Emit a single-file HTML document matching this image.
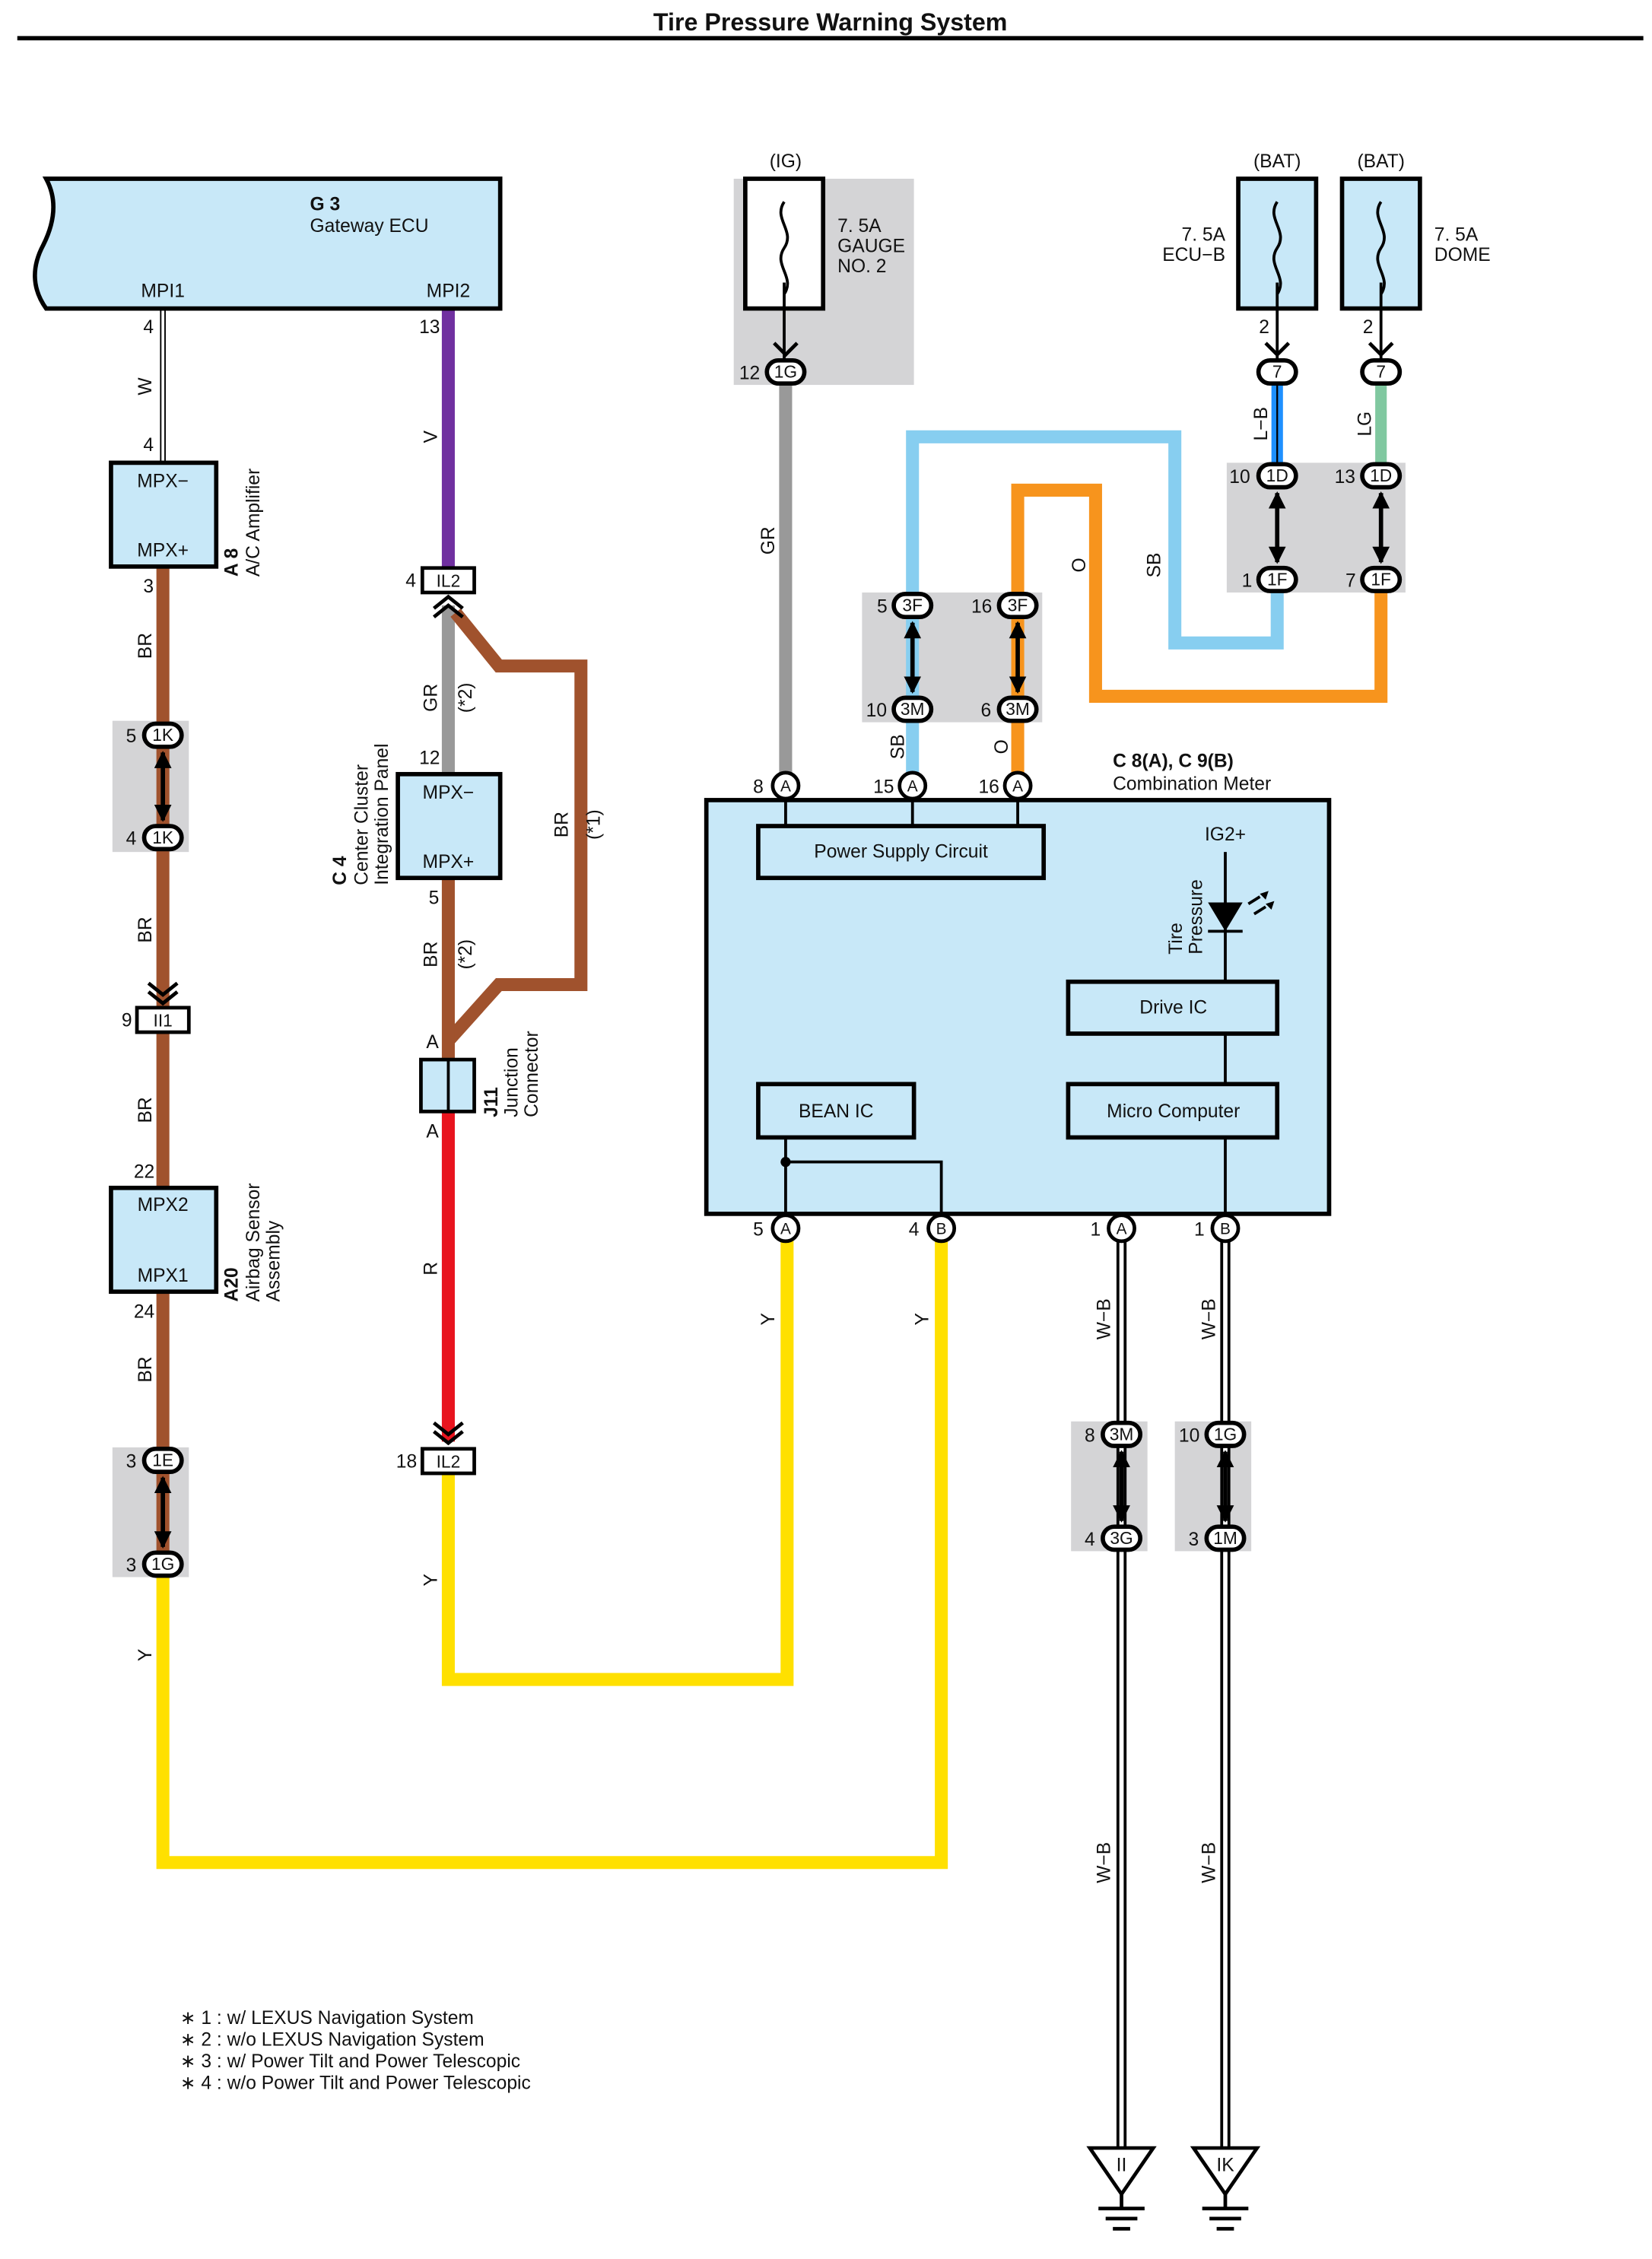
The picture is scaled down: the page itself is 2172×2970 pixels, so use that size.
<!DOCTYPE html>
<html><head><meta charset="utf-8"><style>
html,body{margin:0;padding:0;background:#fff}
svg{display:block}
text{font-family:"Liberation Sans",Arial,sans-serif;font-size:13px;fill:#111}
</style></head><body>
<svg width="2172" height="2970" viewBox="0 0 1146 1567" preserveAspectRatio="none" xmlns="http://www.w3.org/2000/svg">
<defs>
<marker id="ah" viewBox="0 0 10 10" refX="9" refY="5" markerWidth="4" markerHeight="4" orient="auto-start-reverse"><path d="M0,0 L10,5 L0,10 z" fill="#000"/></marker>
</defs>
<text x="576" y="21" text-anchor="middle" style="font-weight:bold;font-size:17px">Tire Pressure Warning System</text>
<rect x="12" y="25" width="1128" height="3" fill="#000"/>

<g fill="#d4d4d6">
<rect x="78" y="500" width="53" height="91"/>
<rect x="78" y="1004" width="53" height="90"/>
<rect x="509" y="124" width="125" height="143"/>
<rect x="851" y="321" width="124" height="90"/>
<rect x="598" y="411" width="125" height="90"/>
<rect x="743" y="986" width="53" height="90"/>
<rect x="815" y="986" width="53" height="90"/>
</g>

<g fill="none" stroke-linejoin="miter">
<path d="M113,214 V322" stroke="#000" stroke-width="4"/><path d="M113,214 V322" stroke="#fff" stroke-width="2"/>
<path d="M113,393 V1094" stroke="#a0522d" stroke-width="9"/>
<path d="M113,1094 V1292 H653 V852" stroke="#ffe000" stroke-width="9"/>
<path d="M311,214 V394" stroke="#7030a0" stroke-width="9"/>
<path d="M311,420 V537" stroke="#999" stroke-width="9"/>
<path d="M316,425 L346,462 H403 V683 H346 L311,722" stroke="#a0522d" stroke-width="9"/>
<path d="M311,609 V735" stroke="#a0522d" stroke-width="9"/>
<path d="M311,771 V1000" stroke="#e8141e" stroke-width="9"/>
<path d="M311,1022 V1165 H546 V852" stroke="#ffe000" stroke-width="9"/>
<path d="M545,267 V545" stroke="#999" stroke-width="9"/>
<path d="M886,267 V322" stroke="#1e90ff" stroke-width="8"/><path d="M886,267 V322" stroke="#000" stroke-width="1.2"/>
<path d="M958,267 V322" stroke="#80c8a0" stroke-width="8"/>
<path d="M886,411 V446 H815 V303 H633 V545" stroke="#87cef0" stroke-width="9"/>
<path d="M958,411 V483 H760 V340 H706 V545" stroke="#f7941d" stroke-width="9"/>
<path d="M778,852 V1500" stroke="#000" stroke-width="7"/><path d="M778,852 V1500" stroke="#fff" stroke-width="3"/>
<path d="M850,852 V1500" stroke="#000" stroke-width="7"/><path d="M850,852 V1500" stroke="#fff" stroke-width="3"/>
</g>

<path d="M32,124 H347 V214 H32 C22,200 22,185 30,170 C40,150 38,135 32,124 Z" fill="#c8e8f8" stroke="#000" stroke-width="3"/>
<text x="215" y="146" style="font-weight:bold">G 3</text>
<text x="215" y="161">Gateway ECU</text>
<text x="113" y="206" text-anchor="middle">MPI1</text>
<text x="311" y="206" text-anchor="middle">MPI2</text>

<g fill="#c8e8f8" stroke="#000" stroke-width="3">
<rect x="77" y="321" width="73" height="72"/>
<rect x="77" y="824" width="73" height="72"/>
<rect x="276" y="537" width="71" height="72"/>
<rect x="859" y="124" width="54" height="90"/>
<rect x="931" y="124" width="54" height="90"/>
<rect x="490" y="555" width="432" height="287"/>
<rect x="526" y="573" width="198" height="36"/>
<rect x="741" y="681" width="145" height="36"/>
<rect x="741" y="752" width="145" height="37"/>
<rect x="526" y="752" width="108" height="37"/>
</g>
<rect x="517" y="124" width="54" height="90" fill="#fff" stroke="#000" stroke-width="3"/>
<g fill="none" stroke="#000" stroke-width="2">
<path d="M544,140 c-8,12 8,20 0,32 c-8,12 8,20 0,32 M544,196 V214"/>
<path d="M886,140 c-8,12 8,20 0,32 c-8,12 8,20 0,32 M886,196 V214"/>
<path d="M958,140 c-8,12 8,20 0,32 c-8,12 8,20 0,32 M958,196 V214"/>
<path d="M544,214 V250 M886,214 V250 M958,214 V250"/>
</g>
<text x="113" y="338" text-anchor="middle">MPX−</text>
<text x="113" y="386" text-anchor="middle">MPX+</text>
<text x="113" y="840" text-anchor="middle">MPX2</text>
<text x="113" y="889" text-anchor="middle">MPX1</text>
<text x="311" y="554" text-anchor="middle">MPX−</text>
<text x="311" y="602" text-anchor="middle">MPX+</text>
<text x="625" y="595" text-anchor="middle">Power Supply Circuit</text>
<text x="814" y="703" text-anchor="middle">Drive IC</text>
<text x="814" y="775" text-anchor="middle">Micro Computer</text>
<text x="580" y="775" text-anchor="middle">BEAN IC</text>

<g>
<text transform="translate(165,400) rotate(-90)" style="font-weight:bold">A 8</text>
<text transform="translate(180,400) rotate(-90)">A/C Amplifier</text>
<text transform="translate(165,903) rotate(-90)" style="font-weight:bold">A20</text>
<text transform="translate(180,903) rotate(-90)">Airbag Sensor</text>
<text transform="translate(194,903) rotate(-90)">Assembly</text>
<text transform="translate(240,614) rotate(-90)" style="font-weight:bold">C 4</text>
<text transform="translate(255,614) rotate(-90)">Center Cluster</text>
<text transform="translate(269,614) rotate(-90)">Integration Panel</text>
<text transform="translate(345,775) rotate(-90)" style="font-weight:bold">J11</text>
<text transform="translate(359,775) rotate(-90)">Junction</text>
<text transform="translate(373,775) rotate(-90)">Connector</text>
<text transform="translate(820,662) rotate(-90)">Tire</text>
<text transform="translate(834,662) rotate(-90)">Pressure</text>
</g>
<g text-anchor="middle">
<text transform="translate(105,268) rotate(-90)">W</text>
<text transform="translate(105,448) rotate(-90)">BR</text>
<text transform="translate(105,645) rotate(-90)">BR</text>
<text transform="translate(105,770) rotate(-90)">BR</text>
<text transform="translate(105,950) rotate(-90)">BR</text>
<text transform="translate(105,1148) rotate(-90)">Y</text>
<text transform="translate(303,303) rotate(-90)">V</text>
<text transform="translate(303,484) rotate(-90)">GR</text>
<text transform="translate(327,484) rotate(-90)">(*2)</text>
<text transform="translate(303,662) rotate(-90)">BR</text>
<text transform="translate(327,662) rotate(-90)">(*2)</text>
<text transform="translate(394,572) rotate(-90)">BR</text>
<text transform="translate(416,572) rotate(-90)">(*1)</text>
<text transform="translate(303,880) rotate(-90)">R</text>
<text transform="translate(303,1096) rotate(-90)">Y</text>
<text transform="translate(537,375) rotate(-90)">GR</text>
<text transform="translate(879,294) rotate(-90)">L−B</text>
<text transform="translate(951,294) rotate(-90)">LG</text>
<text transform="translate(805,392) rotate(-90)">SB</text>
<text transform="translate(753,392) rotate(-90)">O</text>
<text transform="translate(627,518) rotate(-90)">SB</text>
<text transform="translate(699,518) rotate(-90)">O</text>
<text transform="translate(537,915) rotate(-90)">Y</text>
<text transform="translate(644,915) rotate(-90)">Y</text>
<text transform="translate(770,915) rotate(-90)">W−B</text>
<text transform="translate(843,915) rotate(-90)">W−B</text>
<text transform="translate(770,1292) rotate(-90)">W−B</text>
<text transform="translate(843,1292) rotate(-90)">W−B</text>
</g>

<g text-anchor="middle">
<text x="103" y="231">4</text><text x="103" y="313">4</text><text x="103" y="411">3</text>
<text x="100" y="817">22</text><text x="100" y="914">24</text>
<text x="298" y="231">13</text><text x="285" y="407">4</text><text x="298" y="530">12</text>
<text x="301" y="627">5</text><text x="300" y="727">A</text><text x="300" y="789">A</text>
<text x="282" y="1018">18</text><text x="88" y="712">9</text>
<text x="545" y="116">(IG)</text><text x="886" y="116">(BAT)</text><text x="958" y="116">(BAT)</text>
<text x="877" y="231">2</text><text x="949" y="231">2</text>
<text x="850" y="583">IG2+</text>
</g>
<text x="581" y="161">7. 5A</text><text x="581" y="175">GAUGE</text><text x="581" y="189">NO. 2</text>
<text x="850" y="167" text-anchor="end">7. 5A</text><text x="850" y="181" text-anchor="end">ECU−B</text>
<text x="995" y="167">7. 5A</text><text x="995" y="181">DOME</text>
<text x="772" y="532" style="font-weight:bold">C 8(A), C 9(B)</text>
<text x="772" y="548">Combination Meter</text>

<g stroke="#000" stroke-width="3" fill="#fff">
<rect x="100" y="502" width="26" height="16" rx="8"/><rect x="100" y="573" width="26" height="16" rx="8"/>
<rect x="100" y="1005" width="26" height="16" rx="8"/><rect x="100" y="1077" width="26" height="16" rx="8"/>
<rect x="532" y="250" width="26" height="16" rx="8"/>
<rect x="873" y="250" width="26" height="16" rx="8"/><rect x="945" y="250" width="26" height="16" rx="8"/>
<rect x="873" y="322" width="26" height="16" rx="8"/><rect x="873" y="394" width="26" height="16" rx="8"/>
<rect x="945" y="322" width="26" height="16" rx="8"/><rect x="945" y="394" width="26" height="16" rx="8"/>
<rect x="620" y="412" width="26" height="16" rx="8"/><rect x="620" y="484" width="26" height="16" rx="8"/>
<rect x="693" y="412" width="26" height="16" rx="8"/><rect x="693" y="484" width="26" height="16" rx="8"/>
<rect x="765" y="987" width="26" height="16" rx="8"/><rect x="765" y="1059" width="26" height="16" rx="8"/>
<rect x="837" y="987" width="26" height="16" rx="8"/><rect x="837" y="1059" width="26" height="16" rx="8"/>
</g>
<g stroke="#000" stroke-width="2.5" fill="#fff">
<rect x="293" y="394" width="36" height="17"/><rect x="293" y="1005" width="36" height="17"/>
<rect x="95" y="699" width="36" height="17"/>
<rect x="292" y="735" width="37" height="36" fill="#c8e8f8"/>
</g>
<path d="M311,735 V771" stroke="#000" stroke-width="2"/>
<g text-anchor="middle">
<text x="113" y="514" style="font-size:12px">1K</text><text x="113" y="585" style="font-size:12px">1K</text>
<text x="113" y="1017" style="font-size:12px">1E</text><text x="113" y="1089" style="font-size:12px">1G</text>
<text x="545" y="262" style="font-size:12px">1G</text>
<text x="886" y="262" style="font-size:12px">7</text><text x="958" y="262" style="font-size:12px">7</text>
<text x="886" y="334" style="font-size:12px">1D</text><text x="886" y="406" style="font-size:12px">1F</text>
<text x="958" y="334" style="font-size:12px">1D</text><text x="958" y="406" style="font-size:12px">1F</text>
<text x="633" y="424" style="font-size:12px">3F</text><text x="633" y="496" style="font-size:12px">3M</text>
<text x="706" y="424" style="font-size:12px">3F</text><text x="706" y="496" style="font-size:12px">3M</text>
<text x="778" y="999" style="font-size:12px">3M</text><text x="778" y="1071" style="font-size:12px">3G</text>
<text x="850" y="999" style="font-size:12px">1G</text><text x="850" y="1071" style="font-size:12px">1M</text>
<text x="311" y="407" style="font-size:12px">IL2</text><text x="311" y="1018" style="font-size:12px">IL2</text>
<text x="113" y="712" style="font-size:12px">II1</text>
</g>
<g text-anchor="middle">
<text x="91" y="515">5</text><text x="91" y="586">4</text><text x="91" y="1018">3</text><text x="91" y="1090">3</text>
<text x="520" y="263">12</text>
<text x="860" y="335">10</text><text x="865" y="407">1</text><text x="933" y="335">13</text><text x="937" y="407">7</text>
<text x="612" y="425">5</text><text x="681" y="425">16</text><text x="608" y="497">10</text><text x="684" y="497">6</text>
<text x="756" y="1000">8</text><text x="756" y="1072">4</text><text x="825" y="1000">10</text><text x="828" y="1072">3</text>
</g>

<g stroke="#000" stroke-width="3" marker-start="url(#ah)" marker-end="url(#ah)">
<line x1="113" y1="522" x2="113" y2="569"/><line x1="113" y1="1025" x2="113" y2="1073"/>
<line x1="886" y1="342" x2="886" y2="390"/><line x1="958" y1="342" x2="958" y2="390"/>
<line x1="633" y1="432" x2="633" y2="480"/><line x1="706" y1="432" x2="706" y2="480"/>
<line x1="778" y1="1007" x2="778" y2="1055"/><line x1="850" y1="1007" x2="850" y2="1055"/>
</g>
<g fill="none" stroke="#000" stroke-width="2.5">
<path d="M103,682 l10,8 l10,-8 M103,688 l10,8 l10,-8"/>
<path d="M301,987 l10,8 l10,-8 M301,993 l10,8 l10,-8"/>
<path d="M301,422 l10,-8 l10,8 M301,428 l10,-8 l10,8"/>
<path d="M537,238 l8,8 l8,-8"/><path d="M878,238 l8,8 l8,-8"/><path d="M950,238 l8,8 l8,-8"/>
</g>

<g stroke="#000" stroke-width="2" fill="none">
<path d="M545,554 V573 M633,554 V573 M706,554 V573"/>
<path d="M850,591 V681 M850,717 V752 M850,789 V843"/>
<path d="M545,789 V843 M545,806 H653 V843"/>
<path d="M866,627 l8,-5 M870,634 l8,-5"/>
</g>
<circle cx="545" cy="806" r="3.5"/>
<path d="M838,626 H862 L850,646 Z" fill="#000"/><path d="M838,646 H862" stroke="#000" stroke-width="2"/>
<path d="M874,620 l6,-2 l-2,6z M878,627 l6,-2 l-2,6z" fill="#000"/>

<g stroke="#000" stroke-width="2.5" fill="#fff">
<circle cx="545" cy="545" r="9"/><circle cx="633" cy="545" r="9"/><circle cx="706" cy="545" r="9"/>
<circle cx="545" cy="852" r="9"/><circle cx="653" cy="852" r="9"/><circle cx="778" cy="852" r="9"/><circle cx="850" cy="852" r="9"/>
</g>
<g text-anchor="middle">
<text x="545" y="549" style="font-size:11px">A</text><text x="633" y="549" style="font-size:11px">A</text><text x="706" y="549" style="font-size:11px">A</text>
<text x="545" y="856" style="font-size:11px">A</text><text x="653" y="856" style="font-size:11px">B</text><text x="778" y="856" style="font-size:11px">A</text><text x="850" y="856" style="font-size:11px">B</text>
</g>
<g text-anchor="middle">
<text x="526" y="550">8</text><text x="613" y="550">15</text><text x="686" y="550">16</text>
<text x="526" y="857">5</text><text x="634" y="857">4</text><text x="760" y="857">1</text><text x="832" y="857">1</text>
</g>

<g fill="#fff" stroke="#000" stroke-width="2.5">
<path d="M756,1490 H800 L778,1522 Z"/><path d="M828,1490 H872 L850,1522 Z"/>
</g>
<g stroke="#000" stroke-width="2.5">
<path d="M778,1522 V1532 M762,1532 H794 M767,1539 H789 M772,1546 H784"/>
<path d="M850,1522 V1532 M834,1532 H866 M839,1539 H861 M844,1546 H856"/>
</g>
<text x="778" y="1506" text-anchor="middle">II</text><text x="850" y="1506" text-anchor="middle">IK</text>

<text x="125" y="1404">∗ 1 : w/ LEXUS Navigation System</text>
<text x="125" y="1419">∗ 2 : w/o LEXUS Navigation System</text>
<text x="125" y="1434">∗ 3 : w/ Power Tilt and Power Telescopic</text>
<text x="125" y="1449">∗ 4 : w/o Power Tilt and Power Telescopic</text>
</svg>
</body></html>
